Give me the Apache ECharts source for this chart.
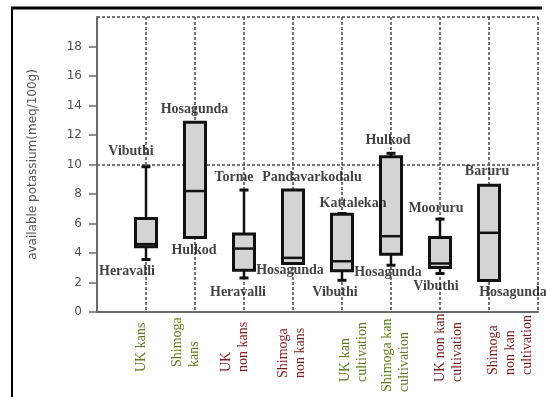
<!DOCTYPE html>
<html>
<head>
<meta charset="utf-8">
<script src="https://cdn.jsdelivr.net/npm/echarts@6/dist/echarts.min.js"></script>
<style>
  html, body { margin: 0; padding: 0; background: #fff; }
  #chart { width: 546px; height: 397px; }
</style>
</head>
<body>
<div id="chart"></div>
<script>
// Groups of sampled soils (axis order)
const groups = ['UK kans', 'Shimoga kans', 'UK non kans', 'Shimoga non kans',
  'UK kan cultivation', 'Shimoga kan cultivation', 'UK non kan cultivation', 'Shimoga non kan cultivation'];
// Axis label text, broken into lines
const groupLabels = ['UK kans', 'Shimoga\nkans', 'UK\nnon kans', 'Shimoga\nnon kans',
  'UK kan\ncultivation', 'Shimoga kan\ncultivation', 'UK non kan\ncultivation', 'Shimoga\nnon kan\ncultivation'];

// Five-number summaries, available potassium (meq/100g)
const minVals    = [3.56, 5.05, 2.31, 3.29, 2.15, 3.17, 2.61, 2.13];
const q1Vals     = [4.42, 5.05, 2.83, 3.29, 2.79, 3.92, 3.02, 2.13];
const medianVals = [4.60, 8.20, 4.30, 3.67, 3.44, 5.14, 3.29, 5.37];
const q3Vals     = [6.34, 12.87, 5.28, 8.27, 6.62, 10.53, 5.05, 8.59];
const maxVals    = [9.85, 12.87, 8.27, 8.27, 6.68, 10.76, 6.30, 8.59];

// Sites with the highest / lowest value in each group
const maxSites = ['Vibuthi', 'Hosagunda', 'Torme', 'Pandavarkodalu', 'Kattalekan', 'Hulkod', 'Mooruru', 'Baruru'];
const minSites = ['Heravalli', 'Hulkod', 'Heravalli', 'Hosagunda', 'Vibuthi', 'Hosagunda', 'Vibuthi', 'Hosagunda'];

const yTickValues = [0, 2, 4, 6, 8, 10, 12, 14, 16, 18];

// ---- presentation settings ----
const GREEN = '#5a7d1e', MAROON = '#7a1d1d';
const labelColors = [GREEN, GREEN, MAROON, MAROON, GREEN, GREEN, MAROON, MAROON];
// sideways nudge of each group label block (px, + = right) and its lift above the lowest start (px)
const labelShift = [-5, -9, -9, -1.5, 12, 5, 9, 21];
const labelLift  = [20, 25, 20, 14, 10, 0, 10, 17];
const LABEL_START = 80;   // distance below the x axis where the lowest label starts
// site name offsets from the whisker end (px)
const topOffsets = [[-15, -15], [-0.5, -13], [-10, -12.5], [19, -12.5], [11, -10], [-3, -12.6], [-4, -10.7], [-2, -13.6]];
const botOffsets = [[-19, 12.4], [-1, 12.7], [-6, 14.6], [-3, 7.4], [-7, 11.7], [-3, 6.7], [-4, 12.7], [24, 11.4]];

const categories = [''].concat(groups, ['']);

const boxData = groups.map((g, i) => [i + 1, minVals[i], q1Vals[i], medianVals[i], q3Vals[i], maxVals[i]]);

function renderBox(params, api) {
  const x = api.value(0);
  const pMin = api.coord([x, api.value(1)]);
  const pQ1 = api.coord([x, api.value(2)]);
  const pMed = api.coord([x, api.value(3)]);
  const pQ3 = api.coord([x, api.value(4)]);
  const pMax = api.coord([x, api.value(5)]);
  const cx = pMed[0];
  const halfW = 10.5, capHalf = 4.5;
  const ink = '#111';
  const children = [];
  if (api.value(5) > api.value(4)) {
    children.push({ type: 'line', shape: { x1: cx, y1: pQ3[1], x2: cx, y2: pMax[1] }, style: { stroke: ink, lineWidth: 2.5 } });
    children.push({ type: 'line', shape: { x1: cx - capHalf, y1: pMax[1], x2: cx + capHalf, y2: pMax[1] }, style: { stroke: ink, lineWidth: 3 } });
  }
  if (api.value(1) < api.value(2)) {
    children.push({ type: 'line', shape: { x1: cx, y1: pQ1[1], x2: cx, y2: pMin[1] }, style: { stroke: ink, lineWidth: 2.5 } });
    children.push({ type: 'line', shape: { x1: cx - capHalf, y1: pMin[1], x2: cx + capHalf, y2: pMin[1] }, style: { stroke: ink, lineWidth: 3 } });
  }
  children.push({ type: 'rect', shape: { x: cx - halfW, y: pQ3[1], width: 2 * halfW, height: pQ1[1] - pQ3[1] },
    style: { fill: '#d4d4d4', stroke: ink, lineWidth: 3 } });
  children.push({ type: 'line', shape: { x1: cx - halfW, y1: pMed[1], x2: cx + halfW, y2: pMed[1] }, style: { stroke: ink, lineWidth: 2.5 } });
  return { type: 'group', children: children };
}

const siteLabel = { show: true, position: 'inside', fontFamily: 'Liberation Serif', fontWeight: 'bold', fontSize: 14, color: '#111' };
const topLabelData = groups.map((g, i) => ({ value: [i + 1, maxVals[i]], name: maxSites[i], label: { offset: topOffsets[i] } }));
const botLabelData = groups.map((g, i) => ({ value: [i + 1, minVals[i]], name: minSites[i], label: { offset: botOffsets[i] } }));

const gridDash = { color: '#4a4a4a', width: 1.5, type: [3, 2] };

const frame = [
  { type: 'line', shape: { x1: 11, y1: 8, x2: 542, y2: 8 }, style: { stroke: '#000', lineWidth: 3 }, silent: true },
  { type: 'line', shape: { x1: 12, y1: 7, x2: 12, y2: 397 }, style: { stroke: '#000', lineWidth: 2 }, silent: true }
];

const chart = echarts.init(document.getElementById('chart'), null, { renderer: 'canvas' });
chart.setOption({
  animation: false,
  backgroundColor: '#fff',
  grid: { left: 97, right: 8, top: 17, bottom: 85 },
  xAxis: {
    type: 'category',
    data: categories,
    boundaryGap: false,
    axisLine: { lineStyle: { color: '#6a6a6a', width: 2 } },
    axisTick: { show: false },
    axisLabel: { show: false },
    splitLine: { show: true, interval: 0, lineStyle: gridDash }
  },
  yAxis: [{
    type: 'value', min: 0, max: 20, interval: 2,
    name: 'available potassium(meq/100g)', nameLocation: 'middle', nameGap: 58, nameRotate: 90,
    nameTextStyle: { fontFamily: 'DejaVu Sans', fontSize: 12, color: '#555' },
    axisLine: { show: true, lineStyle: { color: '#6a6a6a', width: 2 } },
    axisTick: { show: true, length: 8, customValues: yTickValues, lineStyle: { color: '#6a6a6a', width: 1.5 } },
    axisLabel: { customValues: yTickValues, margin: 15, fontFamily: 'DejaVu Sans', fontSize: 12, color: '#505050' },
    splitLine: { show: false }
  }, {
    type: 'value', min: 0, max: 20, interval: 10, position: 'right',
    axisLine: { show: false }, axisTick: { show: false }, axisLabel: { show: false },
    splitLine: { show: true, lineStyle: gridDash }
  }],
  graphic: frame,
  series: [
    { type: 'custom', renderItem: renderBox, data: boxData, encode: { x: 0, y: [1, 2, 3, 4, 5] }, z: 3 },
    { type: 'scatter', symbolSize: 0, data: topLabelData, label: Object.assign({ formatter: p => p.name }, siteLabel), z: 4 },
    { type: 'scatter', symbolSize: 0, data: botLabelData, label: Object.assign({ formatter: p => p.name }, siteLabel), z: 4 }
  ]
});

// Group names: upright-reading text placed under each category tick of the x axis
const axisY = chart.convertToPixel({ yAxisIndex: 0 }, 0);
const groupTexts = groups.map((g, i) => {
  const tickX = chart.convertToPixel({ xAxisIndex: 0 }, i + 1);
  return {
    type: 'text',
    x: tickX + labelShift[i],
    y: axisY + LABEL_START - labelLift[i],
    rotation: Math.PI / 2,
    silent: true,
    style: {
      text: groupLabels[i],
      fill: labelColors[i],
      fontFamily: 'Liberation Serif',
      fontSize: 14,
      lineHeight: 17,
      align: 'left', verticalAlign: 'middle',
      textAlign: 'left', textVerticalAlign: 'middle'
    }
  };
});
chart.setOption({ graphic: frame.concat(groupTexts) });
</script>
</body>
</html>
